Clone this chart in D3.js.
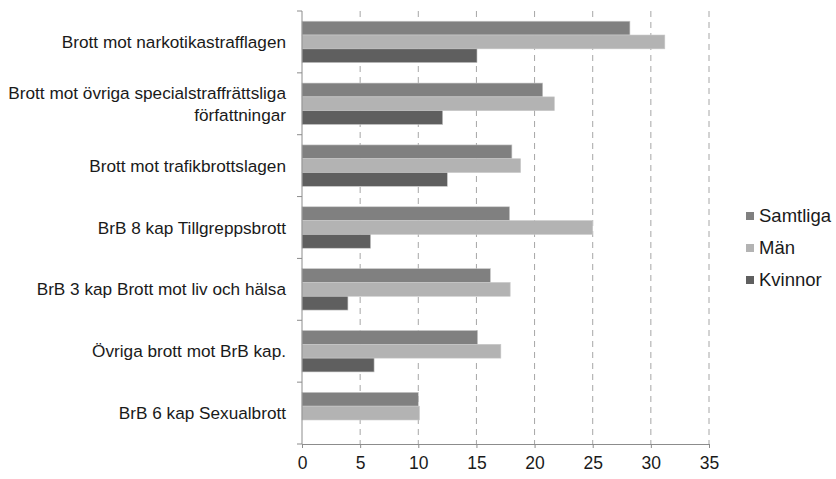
<!DOCTYPE html>
<html>
<head>
<meta charset="utf-8">
<script src="https://cdn.jsdelivr.net/npm/d3@7"></script>
<style>
  body { margin: 0; background: #fff; }
  svg { font-family: "Liberation Sans", Arial, sans-serif; }
</style>
</head>
<body>
<div id="chart"></div>
<script>
// categories, top to bottom
const categories = [
  ["Brott mot narkotikastrafflagen"],
  ["Brott mot övriga specialstraffrättsliga", "författningar"],
  ["Brott mot trafikbrottslagen"],
  ["BrB 8 kap Tillgreppsbrott"],
  ["BrB 3 kap Brott mot liv och hälsa"],
  ["Övriga brott mot BrB kap."],
  ["BrB 6 kap Sexualbrott"]
];
const seriesNames = ["Samtliga", "Män", "Kvinnor"];
const samtliga = [28.2, 20.7, 18.05, 17.85, 16.2, 15.1, 10.0];
const man = [31.2, 21.7, 18.8, 25.0, 17.9, 17.1, 10.1];
const kvinnor = [15.05, 12.1, 12.5, 5.9, 3.95, 6.2, 0];
const xTicks = [0, 5, 10, 15, 20, 25, 30, 35];
const colors = ["#808080", "#b3b3b3", "#5f5f5f"];

const width = 836, height = 479;
const margin = {top: 11, right: 127, bottom: 35, left: 302};

const svg = d3.select("#chart").append("svg")
  .attr("width", width)
  .attr("height", height);

const x = d3.scaleLinear()
  .domain([0, 35])
  .range([margin.left, width - margin.right]);

const y = d3.scaleBand()
  .domain(d3.range(categories.length))
  .range([margin.top, height - margin.bottom])
  .paddingInner(0.33)
  .paddingOuter(0.165);

const ySub = d3.scaleBand()
  .domain(seriesNames)
  .range([0, y.bandwidth()]);

// dashed gridlines
svg.append("g")
  .selectAll("line")
  .data(xTicks.slice(1))
  .join("line")
  .attr("x1", d => x(d)).attr("x2", d => x(d))
  .attr("y1", margin.top).attr("y2", height - margin.bottom)
  .attr("stroke", "#a6a6a6")
  .attr("stroke-dasharray", "6,5");

const rows = categories.map((c, i) => ({
  i: i,
  values: [samtliga[i], man[i], kvinnor[i]]
}));

const groups = svg.append("g")
  .selectAll("g")
  .data(rows)
  .join("g")
  .attr("transform", d => "translate(0," + y(d.i) + ")");

groups.selectAll("rect")
  .data(d => d.values.map((v, k) => ({v: v, k: k})).filter(e => e.v > 0))
  .join("rect")
  .attr("x", x(0))
  .attr("y", d => ySub(seriesNames[d.k]))
  .attr("width", d => x(d.v) - x(0))
  .attr("height", ySub.bandwidth())
  .attr("fill", d => colors[d.k])
  .attr("stroke", "#c8c8c8")
  .attr("stroke-width", 0.6);

// x axis
const xAxis = svg.append("g")
  .attr("transform", "translate(0," + (height - margin.bottom) + ")")
  .call(d3.axisBottom(x).tickValues(xTicks).tickSize(4).tickPadding(9));
xAxis.select(".domain").attr("stroke", "#8c8c8c");
xAxis.selectAll(".tick line").attr("stroke", "#8c8c8c");
xAxis.selectAll("text")
  .attr("font-size", 17.5)
  .attr("fill", "#1a1a1a")
  .attr("font-family", "Liberation Sans, Arial, sans-serif");

// y axis line with ticks at category boundaries
const step = y.step();
const boundaries = d3.range(categories.length + 1)
  .map(i => margin.top + i * step);
svg.append("line")
  .attr("x1", x(0)).attr("x2", x(0))
  .attr("y1", margin.top).attr("y2", height - margin.bottom)
  .attr("stroke", "#8c8c8c");
svg.append("g")
  .selectAll("line")
  .data(boundaries)
  .join("line")
  .attr("x1", x(0) - 5).attr("x2", x(0))
  .attr("y1", d => d).attr("y2", d => d)
  .attr("stroke", "#8c8c8c");

// category labels
svg.append("g")
  .selectAll("text")
  .data(categories)
  .join("text")
  .attr("text-anchor", "end")
  .attr("font-size", 17.2)
  .attr("fill", "#1a1a1a")
  .attr("x", x(0) - 16)
  .attr("y", (d, i) => margin.top + (i + 0.5) * step)
  .each(function(d) {
    const t = d3.select(this);
    d.forEach((line, j) => {
      t.append("tspan")
        .attr("x", x(0) - 16)
        .attr("dy", j === 0 ? (0.35 - (d.length - 1) * 0.65) + "em" : "1.3em")
        .text(line);
    });
  });

// legend
const legend = svg.append("g")
  .attr("transform", "translate(746,216)");
const li = legend.selectAll("g")
  .data(seriesNames)
  .join("g")
  .attr("transform", (d, i) => "translate(0," + i * 32 + ")");
li.append("rect")
  .attr("x", 0).attr("y", -4)
  .attr("width", 8).attr("height", 8)
  .attr("fill", (d, i) => colors[i]);
li.append("text")
  .attr("x", 13)
  .attr("dy", "0.35em")
  .attr("font-size", 18.5)
  .attr("fill", "#1a1a1a")
  .text(d => d);
</script>
</body>
</html>
